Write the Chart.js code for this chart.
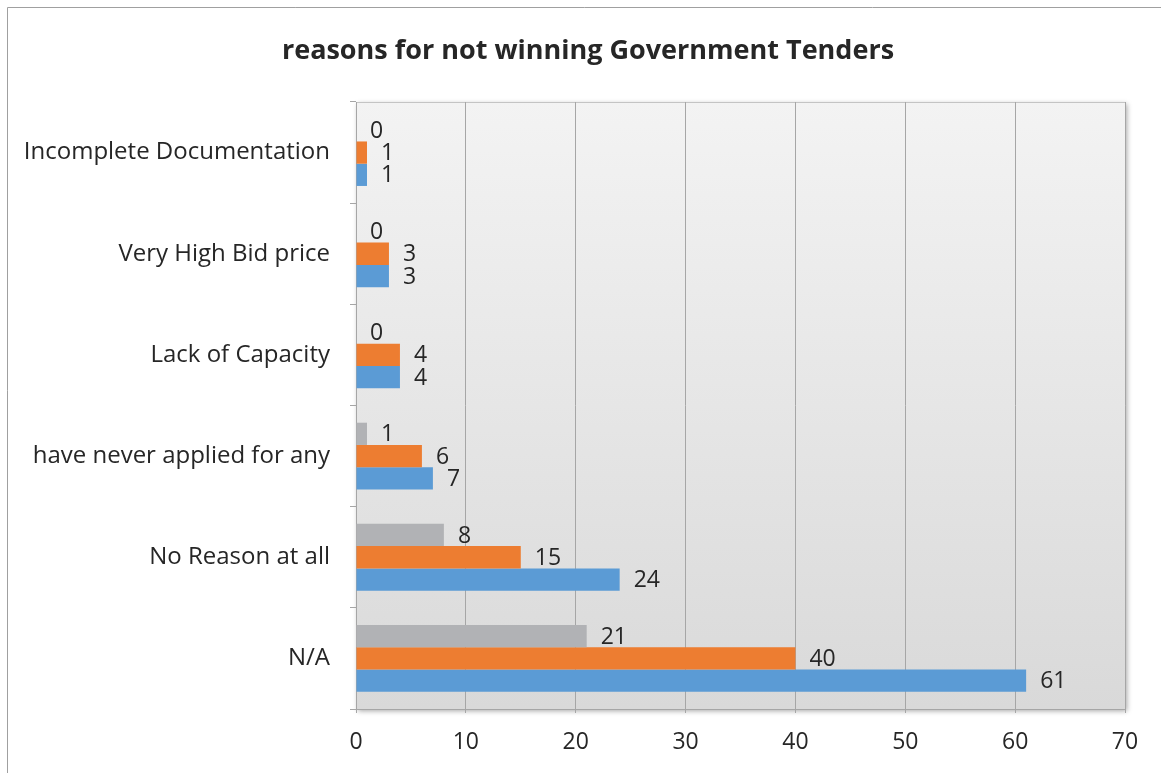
<!DOCTYPE html>
<html>
<head>
<meta charset="utf-8">
<title>reasons for not winning Government Tenders</title>
<script src="https://cdn.jsdelivr.net/npm/chart.js@4/dist/chart.umd.min.js"></script>
<style>
    html, body { margin: 0; padding: 0; background: #ffffff; }
    #wrap { position: relative; width: 1161px; height: 773px; }
</style>
</head>
<body>
<div id="wrap"><canvas id="chart"></canvas></div>
<script>
// Categories, listed top to bottom as they appear on the y axis
const categories = [
    'Incomplete Documentation',
    'Very High Bid price',
    'Lack of Capacity',
    'have never applied for any',
    'No Reason at all',
    'N/A'
];

// Series values (one per category)
const seriesGray = [0, 0, 0, 1, 8, 21];
const seriesOrange = [1, 3, 4, 6, 15, 40];
const seriesBlue = [1, 3, 4, 7, 24, 61];

// Value axis ticks
const xTicks = [0, 10, 20, 30, 40, 50, 60, 70];

const TITLE = 'reasons for not winning Government Tenders';
const FONT = '"Open Sans", "Noto Sans", sans-serif';

const COLORS = {
    gray: '#b1b2b5',
    orange: '#ed7d31',
    blue: '#5b9bd5',
    text: '#262626',
    grid: '#a6a6a6',
    frame: '#a0a0a0'
};

// Frame, title and the shaded plot area behind the bars
const backdrop = {
    id: 'backdrop',
    beforeDraw: (chart) => {
        const { ctx, chartArea: a, width } = chart;
        ctx.save();

        // outer frame (top and left edges)
        ctx.strokeStyle = COLORS.frame;
        ctx.lineWidth = 1;
        ctx.beginPath();
        ctx.moveTo(7.5, chart.height);
        ctx.lineTo(7.5, 7.5);
        ctx.lineTo(width, 7.5);
        ctx.stroke();

        // title
        ctx.fillStyle = COLORS.text;
        ctx.font = 'bold 27px ' + FONT;
        ctx.textAlign = 'center';
        ctx.textBaseline = 'middle';
        ctx.fillText(TITLE, 588, 51);

        // plot area with soft shadow and vertical gradient
        const grad = ctx.createLinearGradient(0, a.top, 0, a.bottom);
        grad.addColorStop(0, '#f3f3f3');
        grad.addColorStop(1, '#d9d9d9');
        ctx.shadowColor = 'rgba(0,0,0,0.35)';
        ctx.shadowBlur = 5;
        ctx.shadowOffsetX = 2;
        ctx.shadowOffsetY = 2;
        ctx.fillStyle = grad;
        ctx.fillRect(a.left, a.top, a.right - a.left, a.bottom - a.top);
        ctx.shadowColor = 'transparent';
        ctx.strokeStyle = '#c4c4c4';
        ctx.strokeRect(a.left + 0.5, a.top + 0.5, a.right - a.left, a.bottom - a.top);
        ctx.restore();
    }
};

// Value labels to the right of each bar
const barValues = {
    id: 'barValues',
    afterDatasetsDraw: (chart) => {
        const ctx = chart.ctx;
        ctx.save();
        ctx.fillStyle = COLORS.text;
        ctx.font = '23px ' + FONT;
        ctx.textAlign = 'left';
        ctx.textBaseline = 'middle';
        chart.data.datasets.forEach((ds, i) => {
            chart.getDatasetMeta(i).data.forEach((bar, j) => {
                ctx.fillText(String(ds.data[j]), bar.x + 14, bar.y + 1);
            });
        });
        ctx.restore();
    }
};

const config = {
    type: 'bar',
    data: {
        labels: categories,
        datasets: [
            { label: 'Series3', data: seriesGray, backgroundColor: COLORS.gray },
            { label: 'Series2', data: seriesOrange, backgroundColor: COLORS.orange },
            { label: 'Series1', data: seriesBlue, backgroundColor: COLORS.blue }
        ]
    },
    options: {
        indexAxis: 'y',
        responsive: true,
        maintainAspectRatio: false,
        animation: false,
        datasets: {
            bar: { categoryPercentage: 0.66, barPercentage: 1.0, borderWidth: 0 }
        },
        layout: { padding: { top: 102, right: 36, left: 0, bottom: 0 } },
        plugins: {
            legend: { display: false },
            title: { display: false },
            tooltip: { enabled: false }
        },
        scales: {
            x: {
                min: 0,
                max: 70,
                afterBuildTicks: (scale) => { scale.ticks = xTicks.map(v => ({ value: v })); },
                afterFit: (scale) => { scale.height = 64; },
                grid: { color: COLORS.grid, tickLength: 4, drawTicks: true },
                border: { color: COLORS.grid },
                ticks: { color: COLORS.text, font: { family: FONT, size: 23 }, padding: 16 }
            },
            y: {
                afterFit: (scale) => { scale.width = 356; },
                grid: { drawOnChartArea: false, color: COLORS.grid, tickLength: 6, offset: true },
                border: { color: COLORS.grid },
                ticks: { color: COLORS.text, font: { family: FONT, size: 24 }, padding: 20 }
            }
        }
    },
    plugins: [backdrop, barValues]
};

new Chart(document.getElementById('chart'), config);
</script>
</body>
</html>
